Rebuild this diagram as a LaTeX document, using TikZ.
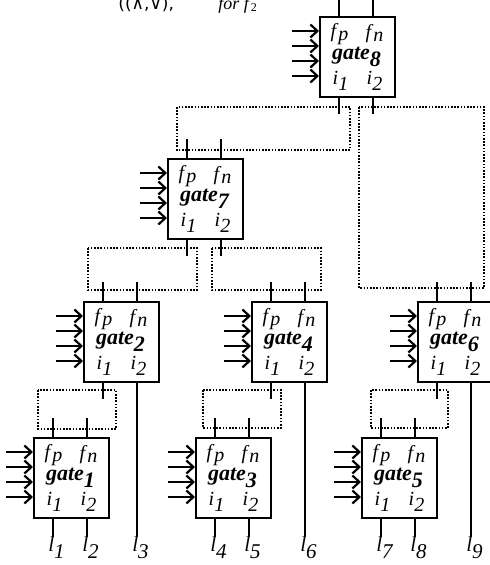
\documentclass[tikz,border=0pt]{standalone}
\usepackage{fontspec}
\setmainfont{Liberation Serif}
\newfontfamily\symf{DejaVu Sans}
\usepackage{tikz}
\usetikzlibrary{arrows.meta,calc}

\tikzset{
  gatebox/.style={draw, line width=1.2pt, minimum width=37.5pt, minimum height=40pt, inner sep=0pt, anchor=north west},
  pin/.style={line width=1.2pt},
  link/.style={line width=0.9pt, dash pattern=on 0.8pt off 0.8pt},
  inarr/.style={line width=1.1pt, -{Straight Barb[length=3.5pt,width=6.5pt,line width=1.1pt]}},
  pinlbl/.style={inner sep=0pt, font=\fontsize{10}{11}\selectfont},
  gatelbl/.style={inner sep=0pt, font=\fontsize{11}{12}\selectfont\bfseries\itshape},
  leaf/.style={inner sep=0pt, anchor=north, font=\fontsize{10.5}{12}\selectfont}
}

\begin{document}
\begin{tikzpicture}[x=0.5pt, y=-0.5pt]
    \useasboundingbox (0,0) rectangle (490,565);
    \clip (0,0) rectangle (490,565);

    % cut-off line of text at the top
    \node[anchor=base west, inner sep=0pt, font=\fontsize{8.5}{10}\selectfont\symf] (ops) at (118,10) {((∧,∨),};
    \node[anchor=base west, inner sep=0pt, font=\fontsize{9}{10}\selectfont] (forf) at (218,10) {\textit{for f}$_{\mathrm{2}}$};

    % gates: number/left/top
    \foreach \n/\x/\y in {1/33/437, 2/83/301, 3/195/437, 4/251/301, 5/361/437, 6/417/301, 7/167/158, 8/319/16} {
        \node[gatebox] (g\n) at (\x,\y) {};
        \coordinate (g\n-a) at (\x+20,\y);
        \coordinate (g\n-b) at (\x+54,\y);
        \coordinate (g\n-c) at (\x+20,\y+80);
        \coordinate (g\n-d) at (\x+54,\y+80);
        \node[pinlbl] (fp\n) at (\x+21,\y+18) {\textit{f}$_{\textit{p}}$};
        \node[pinlbl] (fn\n) at (\x+56,\y+18) {\textit{f}$_{\textit{n}}$};
        \node[gatelbl] (gl\n) at (\x+38,\y+41) {gate$_{\textbf{\textit{\n}}}$};
        \node[pinlbl] (ia\n) at (\x+22,\y+65) {\textit{i}$_{\textit{1}}$};
        \node[pinlbl] (ib\n) at (\x+56,\y+65) {\textit{i}$_{\textit{2}}$};
        \foreach \k in {15,30,45,60} {\draw[inarr] (\x-27,\y+\k) -- (\x,\y+\k);}
        \draw[pin] (g\n-a) -- ++(0,-19);
        \draw[pin] (g\n-b) -- ++(0,-19);
    }

    % outputs that end in a dotted box
    \foreach \p in {g8-c,g8-d,g7-c,g7-d,g2-c,g4-c,g6-c} {\draw[pin] (\p) -- ++(0,18);}

    % dotted boxes between parent and child
    \draw[link] (177,107) rectangle (350,150);
    \draw[link] (359,107) rectangle (484,288);
    \draw[link] (88,248) rectangle (197,290);
    \draw[link] (212,248) rectangle (321,290);
    \draw[link] (38,390) rectangle (116,429);
    \draw[link] (203,390) rectangle (281,428);
    \draw[link] (371,390) rectangle (448,428);

    % leaves
    \foreach \i/\x in {1/53, 2/87, 3/137, 4/215, 5/249, 6/305, 7/381, 8/415, 9/471} {
        \node[leaf, xshift=2pt] (l\i) at (\x,537) {\textit{l}$_{\textit{\i}}$};
    }
    \draw[pin] (g1-c) -- (g1-c |- l1.north);
    \draw[pin] (g1-d) -- (g1-d |- l2.north);
    \draw[pin] (g2-d) -- (g2-d |- l3.north);
    \draw[pin] (g3-c) -- (g3-c |- l4.north);
    \draw[pin] (g3-d) -- (g3-d |- l5.north);
    \draw[pin] (g4-d) -- (g4-d |- l6.north);
    \draw[pin] (g5-c) -- (g5-c |- l7.north);
    \draw[pin] (g5-d) -- (g5-d |- l8.north);
    \draw[pin] (g6-d) -- (g6-d |- l9.north);
\end{tikzpicture}
\end{document}
